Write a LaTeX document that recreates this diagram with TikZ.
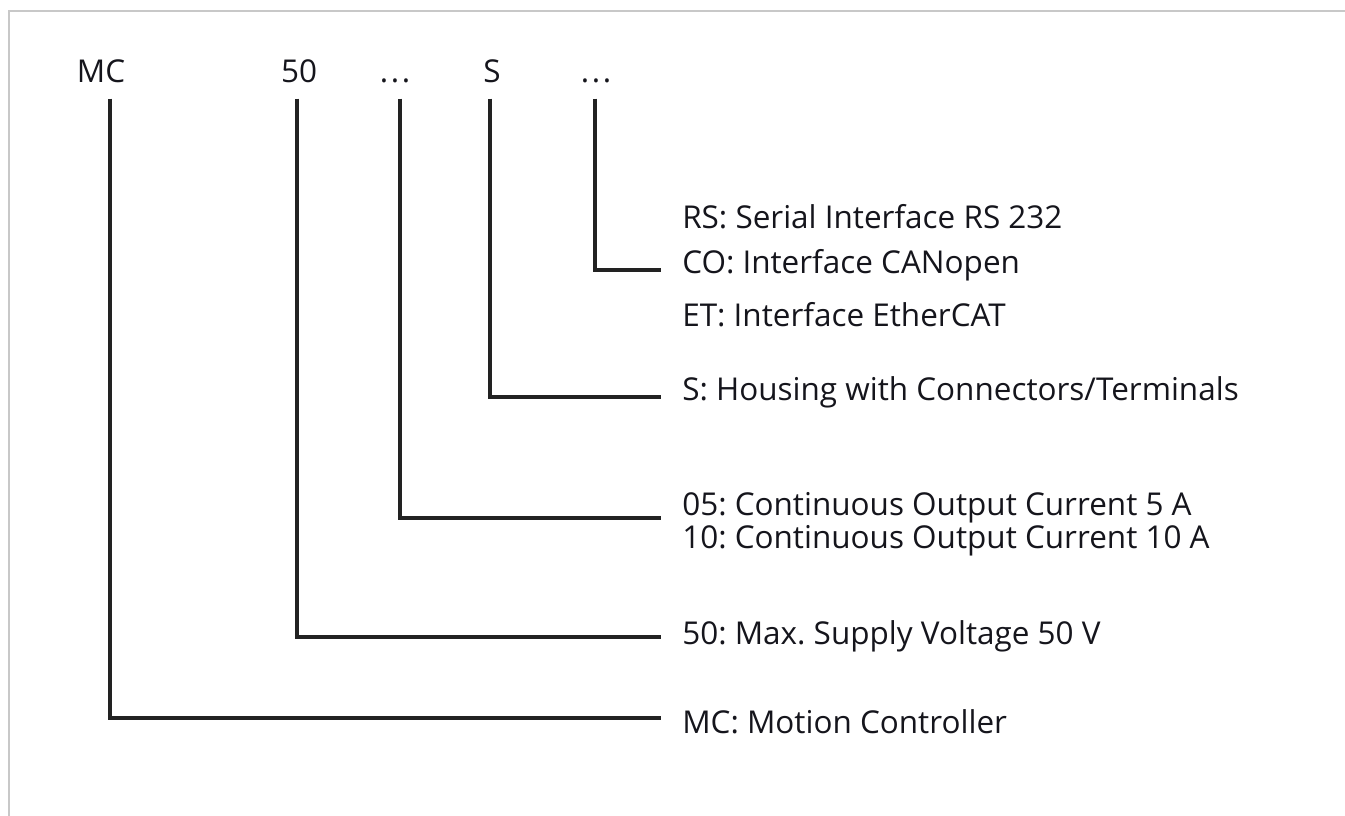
\documentclass[tikz,border=0pt]{standalone}
\usepackage{fontspec}
\setmainfont{Open Sans}
\frenchspacing
\definecolor{inkline}{HTML}{222222}
\definecolor{inktext}{HTML}{15151C}
\definecolor{framegray}{HTML}{C8C8C8}
\newcommand{\gapdots}{.\kern2pt.\kern2pt.}
\begin{document}
\begin{tikzpicture}[x=0.75pt, y=-0.75pt,
    code/.style={anchor=base, inner sep=0pt, text=inktext, font=\fontsize{23.6}{28}\selectfont},
    desc/.style={anchor=base west, inner sep=0pt, text=inktext, font=\fontsize{23.6}{28}\selectfont},
    conn/.style={line width=3pt, draw=inkline, line cap=butt, line join=miter}]
    \useasboundingbox (0,0) rectangle (1345,816);

    % Frame
    \draw[framegray, line width=1.5pt] (9,816) -- (9,11) -- (1345,11);

    % Code letters
    \node[code] (lMC) at (101,83) {MC};
    \node[code] (l50) at (299,83) {50};
    \node[code] (lA) at (395,83) {\gapdots};
    \node[code] (lS) at (492,83) {S};
    \node[code] (lB) at (596,83) {\gapdots};

    % Descriptions
    \node[desc] (dRS) at (682,229) {RS: Serial Interface RS 232};
    \node[desc] (dCO) at (682,274) {CO: Interface CANopen};
    \node[desc] (dET) at (682,327) {ET: Interface EtherCAT};
    \node[desc] (dS) at (682,401) {S: Housing with Connectors/Terminals};
    \node[desc] (d05) at (682,515) {05: Continuous Output Current 5 A};
    \node[desc] (d10) at (682,548) {10: Continuous Output Current 10 A};
    \node[desc] (d50) at (682,644) {50: Max. Supply Voltage 50 V};
    \node[desc] (dMC) at (682,733) {MC: Motion Controller};

    % Corners in front of the descriptions
    \coordinate (kB) at (661,270);
    \coordinate (kS) at (661,397);
    \coordinate (kA) at (661,518);
    \coordinate (k50) at (661,637);
    \coordinate (kMC) at (661,717.5);

    % Connectors
    \draw[conn] (lB.south) ++(-1,15) |- (kB);
    \draw[conn] (lS.south) ++(-2,15) |- (kS);
    \draw[conn] (lA.south) ++(5,15) |- (kA);
    \draw[conn] (l50.south) ++(-2,15) |- (k50);
    \draw[conn] (lMC.south) ++(9,15) |- (kMC);
\end{tikzpicture}
\end{document}
